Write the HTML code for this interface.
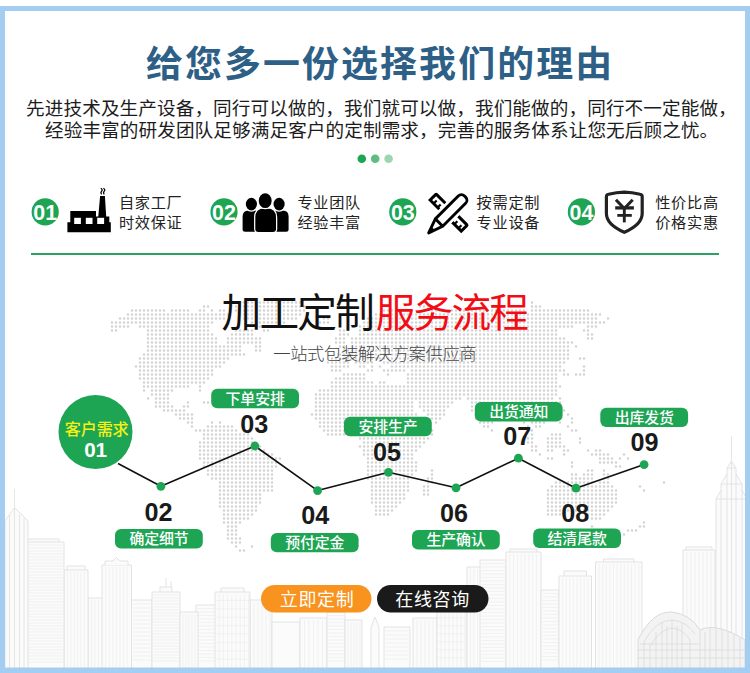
<!DOCTYPE html>
<html lang="zh-CN">
<head>
<meta charset="utf-8">
<title>给您多一份选择我们的理由 - 加工定制服务流程</title>
<style>
html,body{margin:0;padding:0;background:#fff;}
body{position:relative;width:750px;height:673px;overflow:hidden;font-family:"Liberation Sans",sans-serif;}
svg{display:block;position:absolute;left:0;top:0;}
svg text{font-family:"Liberation Sans","Noto Sans CJK SC",sans-serif;}
#textlayer{position:absolute;left:0;top:0;width:750px;height:673px;overflow:hidden;}
#textlayer span{position:absolute;white-space:nowrap;line-height:1;color:transparent;overflow:hidden;}
</style>
</head>
<body>
<svg width="750" height="673" viewBox="0 0 750 673">
<rect x="0" y="0" width="750" height="673" fill="#fff"/>
<path id="worldmap" d="M240 302.4h61M532 302.4h.1M204 306.4h5M236 306.4h69M420 306.4h9M532 306.4h9M132 310.4h33M172 310.4h17M200 310.4h5M212 310.4h.1M220 310.4h5M236 310.4h69M384 310.4h17M432 310.4h93M532 310.4h57M128 314.4h101M240 314.4h61M376 314.4h225M120 318.4h105M244 318.4h53M324 318.4h5M368 318.4h229M608 318.4h.1M112 322.4h101M252 322.4h33M320 322.4h9M364 322.4h241M112 326.4h17M140 326.4h69M256 326.4h21M360 326.4h213M588 326.4h9M112 330.4h5M148 330.4h61M236 330.4h17M264 330.4h5M340 330.4h5M360 330.4h197M584 330.4h5M148 334.4h65M232 334.4h21M340 334.4h9M360 334.4h197M588 334.4h5M148 338.4h69M228 338.4h33M336 338.4h9M352 338.4h213M588 338.4h5M148 342.4h69M228 342.4h33M336 342.4h9M352 342.4h221M148 346.4h93M256 346.4h5M340 346.4h5M352 346.4h217M576 346.4h.1M148 350.4h93M256 350.4h5M344 350.4h225M144 354.4h101M340 354.4h229M140 358.4h89M332 358.4h237M580 358.4h5M140 362.4h85M328 362.4h21M356 362.4h17M384 362.4h181M136 366.4h85M332 366.4h17M360 366.4h5M372 366.4h.1M380 366.4h.1M392 366.4h169M584 366.4h.1M140 370.4h73M332 370.4h9M368 370.4h5M384 370.4h21M412 370.4h153M584 370.4h.1M140 374.4h73M344 374.4h21M388 374.4h.1M408 374.4h149M564 374.4h5M576 374.4h9M140 378.4h69M336 378.4h29M408 378.4h149M144 382.4h61M332 382.4h41M380 382.4h5M408 382.4h149M144 386.4h45M200 386.4h.1M332 386.4h229M144 390.4h.1M152 390.4h21M200 390.4h.1M320 390.4h237M152 394.4h17M316 394.4h241M148 398.4h.1M156 398.4h13M316 398.4h145M468 398.4h85M560 398.4h.1M156 402.4h13M188 402.4h.1M204 402.4h5M316 402.4h97M420 402.4h33M472 402.4h89M156 406.4h17M184 406.4h5M316 406.4h97M420 406.4h29M472 406.4h85M164 410.4h21M316 410.4h97M424 410.4h21M472 410.4h37M516 410.4h37M564 410.4h.1M176 414.4h17M312 414.4h105M428 414.4h17M476 414.4h29M520 414.4h29M568 414.4h.1M180 418.4h13M316 418.4h105M432 418.4h9M476 418.4h25M524 418.4h21M572 418.4h.1M188 422.4h5M212 422.4h.1M220 422.4h.1M320 422.4h105M436 422.4h.1M480 422.4h13M524 422.4h.1M532 422.4h13M560 422.4h.1M572 422.4h.1M192 426.4h.1M208 426.4h25M320 426.4h109M484 426.4h5M528 426.4h.1M536 426.4h5M568 426.4h.1M196 430.4h41M324 430.4h109M492 430.4h.1M532 430.4h.1M572 430.4h5M204 434.4h45M328 434.4h105M532 434.4h.1M552 434.4h9M204 438.4h49M360 438.4h69M528 438.4h5M548 438.4h13M580 438.4h.1M200 442.4h53M364 442.4h61M528 442.4h5M548 442.4h13M580 442.4h.1M200 446.4h61M360 446.4h61M532 446.4h5M548 446.4h17M200 450.4h65M364 450.4h53M532 450.4h5M548 450.4h5M564 450.4h5M588 450.4h.1M596 450.4h5M200 454.4h73M364 454.4h49M540 454.4h.1M564 454.4h.1M592 454.4h17M624 454.4h.1M200 458.4h81M368 458.4h45M548 458.4h5M600 458.4h13M620 458.4h.1M628 458.4h.1M204 462.4h73M368 462.4h49M572 462.4h.1M600 462.4h17M204 466.4h73M368 466.4h49M572 466.4h.1M616 466.4h5M208 470.4h65M368 470.4h49M432 470.4h.1M588 470.4h5M604 470.4h.1M208 474.4h65M368 474.4h45M432 474.4h.1M572 474.4h5M584 474.4h9M604 474.4h5M212 478.4h61M368 478.4h41M428 478.4h5M572 478.4h21M604 478.4h5M220 482.4h53M372 482.4h37M428 482.4h5M556 482.4h37M600 482.4h9M664 482.4h.1M220 486.4h53M372 486.4h37M424 486.4h5M552 486.4h61M640 486.4h.1M220 490.4h53M372 490.4h37M424 490.4h5M548 490.4h69M644 490.4h.1M220 494.4h41M372 494.4h33M424 494.4h5M548 494.4h69M220 498.4h41M372 498.4h33M548 498.4h69M220 502.4h41M372 502.4h29M548 502.4h69M220 506.4h37M376 506.4h21M548 506.4h65M224 510.4h33M376 510.4h17M548 510.4h61M224 514.4h29M376 514.4h13M548 514.4h17M588 514.4h17M224 518.4h25M592 518.4h9M224 522.4h17M644 522.4h.1M228 526.4h9M592 526.4h.1M640 526.4h5M228 530.4h9M628 530.4h9M228 534.4h9M624 534.4h.1M228 538.4h13M232 542.4h9M236 546.4h.1M252 546.4h.1M240 550.4h5" fill="none" stroke="#d3d3d3" stroke-width="2.5" stroke-linecap="round" stroke-dasharray="0 4"/>
<g id="skyline" fill="#fbfbfb" stroke="#e0e0e0" stroke-width="0.9" stroke-linejoin="round">
<rect x="88.0" y="598.0" width="15.0" height="71.0"/><path d="M91.5 600.0V669.0M95.0 600.0V669.0M98.5 600.0V669.0" fill="none" stroke="#ececec" stroke-width="0.7"/>
<rect x="196.0" y="605.0" width="20.0" height="64.0"/><path d="M197.5 608.5H214.5M197.5 612.0H214.5M197.5 615.5H214.5M197.5 619.0H214.5M197.5 622.5H214.5M197.5 626.0H214.5M197.5 629.5H214.5M197.5 633.0H214.5M197.5 636.5H214.5M197.5 640.0H214.5M197.5 643.5H214.5M197.5 647.0H214.5M197.5 650.5H214.5M197.5 654.0H214.5M197.5 657.5H214.5M197.5 661.0H214.5" fill="none" stroke="#ececec" stroke-width="0.7"/>
<rect x="250.0" y="600.0" width="22.0" height="69.0"/><path d="M254.0 602.0V669.0M258.0 602.0V669.0M262.0 602.0V669.0M266.0 602.0V669.0M270.0 602.0V669.0" fill="none" stroke="#ececec" stroke-width="0.7"/>
<rect x="272.0" y="622.0" width="28.0" height="47.0"/>
<rect x="67.0" y="566.0" width="18.0" height="5.0"/><rect x="64.0" y="570.0" width="24.0" height="99.0"/><path d="M67.4 572.0V669.0M70.8 572.0V669.0M74.2 572.0V669.0M77.6 572.0V669.0M81.0 572.0V669.0M84.4 572.0V669.0" fill="none" stroke="#ececec" stroke-width="0.7"/>
<rect x="20.6" y="539.0" width="38.4" height="4.0"/><rect x="15.6" y="542.0" width="48.4" height="127.0"/><path d="M17.1 545.0H62.5M17.1 548.0H62.5M17.1 551.0H62.5M17.1 554.0H62.5M17.1 557.0H62.5M17.1 560.0H62.5M17.1 563.0H62.5M17.1 566.0H62.5M17.1 569.0H62.5M17.1 572.0H62.5M17.1 575.0H62.5M17.1 578.0H62.5M17.1 581.0H62.5M17.1 584.0H62.5M17.1 587.0H62.5M17.1 590.0H62.5M17.1 593.0H62.5M17.1 596.0H62.5M17.1 599.0H62.5M17.1 602.0H62.5M17.1 605.0H62.5M17.1 608.0H62.5M17.1 611.0H62.5M17.1 614.0H62.5M17.1 617.0H62.5M17.1 620.0H62.5M17.1 623.0H62.5M17.1 626.0H62.5M17.1 629.0H62.5M17.1 632.0H62.5M17.1 635.0H62.5M17.1 638.0H62.5M17.1 641.0H62.5M17.1 644.0H62.5M17.1 647.0H62.5M17.1 650.0H62.5M17.1 653.0H62.5M17.1 656.0H62.5M17.1 659.0H62.5M17.1 662.0H62.5" fill="none" stroke="#ececec" stroke-width="0.7"/>
<path d="M5 669V521L14.5 507.5L28 521V669Z"/><path d="M14.5 507.5V489M9.5 514.5V669M14.5 507.5V669M19.5 514.5V669M24 518V669" fill="none" stroke-width="0.8"/>
<rect x="102.0" y="565.0" width="29.5" height="104.0"/><path d="M105.6 567.0V669.0M109.2 567.0V669.0M112.8 567.0V669.0M116.4 567.0V669.0M120.0 567.0V669.0M123.6 567.0V669.0M127.2 567.0V669.0" fill="none" stroke="#ececec" stroke-width="0.7"/>
<path d="M105 565V561H113L116.5 557.5L120 561H128V565" />
<rect x="131.5" y="600.0" width="20.5" height="69.0"/><path d="M133.0 604.0H150.5M133.0 608.0H150.5M133.0 612.0H150.5M133.0 616.0H150.5M133.0 620.0H150.5M133.0 624.0H150.5M133.0 628.0H150.5M133.0 632.0H150.5M133.0 636.0H150.5M133.0 640.0H150.5M133.0 644.0H150.5M133.0 648.0H150.5M133.0 652.0H150.5M133.0 656.0H150.5M133.0 660.0H150.5" fill="none" stroke="#ececec" stroke-width="0.7"/>
<rect x="160.0" y="587.0" width="12.0" height="6.0"/><rect x="152.0" y="592.0" width="28.0" height="77.0"/><path d="M153.5 595.0H178.5M153.5 598.0H178.5M153.5 601.0H178.5M153.5 604.0H178.5M153.5 607.0H178.5M153.5 610.0H178.5M153.5 613.0H178.5M153.5 616.0H178.5M153.5 619.0H178.5M153.5 622.0H178.5M153.5 625.0H178.5M153.5 628.0H178.5M153.5 631.0H178.5M153.5 634.0H178.5M153.5 637.0H178.5M153.5 640.0H178.5M153.5 643.0H178.5M153.5 646.0H178.5M153.5 649.0H178.5M153.5 652.0H178.5M153.5 655.0H178.5M153.5 658.0H178.5M153.5 661.0H178.5" fill="none" stroke="#ececec" stroke-width="0.7"/>
<path d="M166 587V578M171 587V581" fill="none"/>
<rect x="180.0" y="612.0" width="18.0" height="57.0"/><path d="M183.0 614.0V669.0M186.0 614.0V669.0M189.0 614.0V669.0M192.0 614.0V669.0M195.0 614.0V669.0" fill="none" stroke="#ececec" stroke-width="0.7"/>
<rect x="221.0" y="588.0" width="23.0" height="5.0"/><rect x="215.0" y="592.0" width="35.0" height="77.0"/><path d="M219.2 594.0V669.0M223.4 594.0V669.0M227.6 594.0V669.0M231.8 594.0V669.0M236.0 594.0V669.0M240.2 594.0V669.0M244.4 594.0V669.0M248.6 594.0V669.0M215.0 600.4H250.0M215.0 608.8H250.0M215.0 617.2H250.0M215.0 625.6H250.0M215.0 634.0H250.0M215.0 642.4H250.0M215.0 650.8H250.0M215.0 659.2H250.0" fill="none" stroke="#ececec" stroke-width="0.7"/>
<rect x="300.0" y="618.0" width="27.0" height="51.0"/><path d="M304.5 620.0V669.0M309.0 620.0V669.0M313.5 620.0V669.0M318.0 620.0V669.0M322.5 620.0V669.0" fill="none" stroke="#ececec" stroke-width="0.7"/>
<rect x="327.0" y="612.0" width="18.0" height="57.0"/><path d="M328.5 615.5H343.5M328.5 619.0H343.5M328.5 622.5H343.5M328.5 626.0H343.5M328.5 629.5H343.5M328.5 633.0H343.5M328.5 636.5H343.5M328.5 640.0H343.5M328.5 643.5H343.5M328.5 647.0H343.5M328.5 650.5H343.5M328.5 654.0H343.5M328.5 657.5H343.5M328.5 661.0H343.5" fill="none" stroke="#ececec" stroke-width="0.7"/>
<rect x="345.0" y="620.0" width="17.0" height="49.0"/><path d="M348.0 622.0V669.0M351.0 622.0V669.0M354.0 622.0V669.0M357.0 622.0V669.0M360.0 622.0V669.0" fill="none" stroke="#ececec" stroke-width="0.7"/>
<path d="M371 669V628L373 622L375 617L377 622L379 628V669Z"/>
<rect x="384.0" y="627.0" width="26.0" height="42.0"/><path d="M385.5 631.0H408.5M385.5 635.0H408.5M385.5 639.0H408.5M385.5 643.0H408.5M385.5 647.0H408.5M385.5 651.0H408.5M385.5 655.0H408.5M385.5 659.0H408.5" fill="none" stroke="#ececec" stroke-width="0.7"/>
<rect x="413.0" y="618.0" width="24.0" height="51.0"/><path d="M417.0 620.0V669.0M421.0 620.0V669.0M425.0 620.0V669.0M429.0 620.0V669.0M433.0 620.0V669.0" fill="none" stroke="#ececec" stroke-width="0.7"/>
<rect x="442.0" y="590.0" width="20.0" height="5.0"/><rect x="437.0" y="594.0" width="30.0" height="75.0"/><path d="M441.0 596.0V669.0M445.0 596.0V669.0M449.0 596.0V669.0M453.0 596.0V669.0M457.0 596.0V669.0M461.0 596.0V669.0M465.0 596.0V669.0M437.0 602.0H467.0M437.0 610.0H467.0M437.0 618.0H467.0M437.0 626.0H467.0M437.0 634.0H467.0M437.0 642.0H467.0M437.0 650.0H467.0M437.0 658.0H467.0" fill="none" stroke="#ececec" stroke-width="0.7"/>
<rect x="467.0" y="567.0" width="15.0" height="102.0"/><path d="M470.5 569.0V669.0M474.0 569.0V669.0M477.5 569.0V669.0" fill="none" stroke="#ececec" stroke-width="0.7"/>
<rect x="480.0" y="560.0" width="26.0" height="109.0"/><path d="M481.5 563.5H504.5M481.5 567.0H504.5M481.5 570.5H504.5M481.5 574.0H504.5M481.5 577.5H504.5M481.5 581.0H504.5M481.5 584.5H504.5M481.5 588.0H504.5M481.5 591.5H504.5M481.5 595.0H504.5M481.5 598.5H504.5M481.5 602.0H504.5M481.5 605.5H504.5M481.5 609.0H504.5M481.5 612.5H504.5M481.5 616.0H504.5M481.5 619.5H504.5M481.5 623.0H504.5M481.5 626.5H504.5M481.5 630.0H504.5M481.5 633.5H504.5M481.5 637.0H504.5M481.5 640.5H504.5M481.5 644.0H504.5M481.5 647.5H504.5M481.5 651.0H504.5M481.5 654.5H504.5M481.5 658.0H504.5M481.5 661.5H504.5" fill="none" stroke="#ececec" stroke-width="0.7"/>
<rect x="510.0" y="549.0" width="27.0" height="4.0"/><rect x="506.0" y="552.0" width="35.0" height="117.0"/><path d="M509.8 554.0V669.0M513.6 554.0V669.0M517.4 554.0V669.0M521.2 554.0V669.0M525.0 554.0V669.0M528.8 554.0V669.0M532.6 554.0V669.0M536.4 554.0V669.0" fill="none" stroke="#ececec" stroke-width="0.7"/>
<rect x="541.0" y="590.0" width="18.0" height="79.0"/><path d="M542.5 593.5H557.5M542.5 597.0H557.5M542.5 600.5H557.5M542.5 604.0H557.5M542.5 607.5H557.5M542.5 611.0H557.5M542.5 614.5H557.5M542.5 618.0H557.5M542.5 621.5H557.5M542.5 625.0H557.5M542.5 628.5H557.5M542.5 632.0H557.5M542.5 635.5H557.5M542.5 639.0H557.5M542.5 642.5H557.5M542.5 646.0H557.5M542.5 649.5H557.5M542.5 653.0H557.5M542.5 656.5H557.5M542.5 660.0H557.5" fill="none" stroke="#ececec" stroke-width="0.7"/>
<rect x="564.0" y="571.0" width="22.5" height="6.0"/><rect x="559.0" y="576.0" width="32.5" height="93.0"/><path d="M562.6 578.0V669.0M566.2 578.0V669.0M569.8 578.0V669.0M573.4 578.0V669.0M577.0 578.0V669.0M580.6 578.0V669.0M584.2 578.0V669.0M587.8 578.0V669.0" fill="none" stroke="#ececec" stroke-width="0.7"/>
<rect x="603.5" y="559.0" width="30.5" height="4.0"/><rect x="595.5" y="562.0" width="46.5" height="107.0"/><path d="M599.1 564.0V669.0M602.7 564.0V669.0M606.3 564.0V669.0M609.9 564.0V669.0M613.5 564.0V669.0M617.1 564.0V669.0M620.7 564.0V669.0M624.3 564.0V669.0M627.9 564.0V669.0M631.5 564.0V669.0M635.1 564.0V669.0M638.7 564.0V669.0" fill="none" stroke="#ececec" stroke-width="0.7"/>
<rect x="686.0" y="547.0" width="26.0" height="4.0"/><rect x="683.0" y="550.0" width="32.0" height="119.0"/><path d="M687.0 552.0V669.0M691.0 552.0V669.0M695.0 552.0V669.0M699.0 552.0V669.0M703.0 552.0V669.0M707.0 552.0V669.0M711.0 552.0V669.0" fill="none" stroke="#ececec" stroke-width="0.7"/>
<path d="M716 669V499L721 490V484L727 474V468L731.5 461L736 468V474L742 484V490L747 499V669Z"/><path d="M731.5 461V436M721 490V669M727 474V669M731.5 461V669M736 474V669M742 490V669M716 499H747M721 484H742M727 468H736" fill="none" stroke-width="0.8"/>
<path d="M638 669V640Q652 611 672 612Q690 614 700 630Q716 622 745 640V669Z" fill="#f3f3f3" stroke="#d6d6d6"/>
<path d="M644 669V642Q656 620 672 620Q686 621 695 634M650 669V646Q660 629 672 628Q683 629 690 640M700 630V669M662 622V669M672 620V669M682 623V669M690 640V669M710 628V669M722 630V669M734 635V669M638 650H745M638 658H745M640 644H700M656 632V669M667 626V669M677 626V669M705 632V669M716 629V669M728 632V669M740 638V669" fill="none" stroke="#d9d9d9" stroke-width="0.8"/>
</g>
<path d="M0 6H750V673H0Z M5 11V667.4H745V11Z" fill="#a3cdf1" fill-rule="evenodd"/>
<text x="145.9" y="77.1" font-size="36.9" font-weight="bold" fill="#2e5f87" textLength="466.2" lengthAdjust="spacing">给您多一份选择我们的理由</text>
<text x="26.1" y="115" font-size="18.6" fill="#1c1c1c" textLength="710.6" lengthAdjust="spacing">先进技术及生产设备，同行可以做的，我们就可以做，我们能做的，同行不一定能做，</text>
<text x="45" y="137.3" font-size="18.6" fill="#1c1c1c" textLength="673.2" lengthAdjust="spacing">经验丰富的研发团队足够满足客户的定制需求，完善的服务体系让您无后顾之忧。</text>
<circle cx="361.8" cy="158.7" r="4.3" fill="#1da554"/><circle cx="375.2" cy="158.7" r="4.3" fill="#5fbd82"/><circle cx="388.6" cy="158.7" r="4.3" fill="#9bd6b1"/>
<circle cx="45.2" cy="211.9" r="13.6" fill="#1da554"/>
<text x="45.2" y="220" font-size="21.4" font-weight="bold" fill="#fff" text-anchor="middle">01</text>
<text x="118.9" y="208.3" font-size="15.2" fill="#222" textLength="62.9" lengthAdjust="spacing">自家工厂</text>
<text x="118.9" y="227.8" font-size="15.2" fill="#222" textLength="62.9" lengthAdjust="spacing">时效保证</text>
<circle cx="224.0" cy="211.9" r="13.6" fill="#1da554"/>
<text x="224" y="220" font-size="21.4" font-weight="bold" fill="#fff" text-anchor="middle">02</text>
<text x="297.4" y="208.3" font-size="15.2" fill="#222" textLength="62.9" lengthAdjust="spacing">专业团队</text>
<text x="297.4" y="227.8" font-size="15.2" fill="#222" textLength="62.9" lengthAdjust="spacing">经验丰富</text>
<circle cx="402.8" cy="211.9" r="13.6" fill="#1da554"/>
<text x="402.8" y="220" font-size="21.4" font-weight="bold" fill="#fff" text-anchor="middle">03</text>
<text x="476.6" y="208.3" font-size="15.2" fill="#222" textLength="62.9" lengthAdjust="spacing">按需定制</text>
<text x="476.6" y="227.8" font-size="15.2" fill="#222" textLength="62.9" lengthAdjust="spacing">专业设备</text>
<circle cx="581.4" cy="211.9" r="13.6" fill="#1da554"/>
<text x="581.4" y="220" font-size="21.4" font-weight="bold" fill="#fff" text-anchor="middle">04</text>
<text x="655.2" y="208.3" font-size="15.2" fill="#222" textLength="62.9" lengthAdjust="spacing">性价比高</text>
<text x="655.2" y="227.8" font-size="15.2" fill="#222" textLength="62.9" lengthAdjust="spacing">价格实惠</text>
<g id="icon-factory"><title>factory</title>
<path d="M67.4 232.3V222.2H70.3V211H96V216.4H98.3L100.1 196H104.9L106.2 216.4H109.3V222.2H110.8V232.3Z" fill="#000"/>
<rect x="74.2" y="217.8" width="6.7" height="6.2" fill="#fff"/><rect x="85.8" y="217.8" width="6.7" height="6.2" fill="#fff"/><rect x="97.2" y="217.8" width="6.9" height="6.2" fill="#fff"/>
<path d="M100.8 188.3q2.4 1.5.7 3q-1.3 1.4.1 3.1M103.4 188.3q2.4 1.5.7 3q-1.3 1.4.1 3.1" fill="none" stroke="#000" stroke-width="1.3"/>
</g>
<g id="icon-team" fill="#000" stroke="#fff" stroke-width="2.5" paint-order="stroke"><title>team</title>
<path d="M242.6 229.2V216.4Q242.6 210.4 248.6 210.4H256V231.7H245.1Q242.6 231.7 242.6 229.2Z" stroke="none"/>
<path d="M288.6 229.2V216.4Q288.6 210.4 282.6 210.4H275.2V231.7H286.1Q288.6 231.7 288.6 229.2Z" stroke="none"/>
<ellipse cx="251.4" cy="204.1" rx="5.6" ry="6.3"/>
<ellipse cx="279.1" cy="204.1" rx="5.6" ry="6.3"/>
<path d="M255.3 229.1V217.5Q255.3 208.5 264.3 208.5H267Q276 208.5 276 217.5V229.1Q276 232.1 273 232.1H258.3Q255.3 232.1 255.3 229.1Z"/>
<ellipse cx="265.2" cy="200.7" rx="6.45" ry="7.4"/>
</g>
<g id="icon-tools" fill="none" stroke="#000" stroke-width="2.9"><title>pencil and ruler</title>
<g transform="translate(448.7 212.6) rotate(45)">
<path d="M-9 -4.25H-21.2Q-22 -4.25 -22 -3.45V4.25H-9M9.2 -4.25H21.2Q22 -4.25 22 -3.45V4.25H9.2" stroke-width="3"/>
<path d="M-17 4.25V0M-11.4 4.25V0M12.2 4.25V0M18 4.25V0" stroke-width="2.2"/>
</g>
<g transform="translate(447.8 213.8) rotate(-45)" stroke-linejoin="round">
<path d="M-12.4 -5.2H20A4.4 4.4 0 0 1 24.4 -.8V.8A4.4 4.4 0 0 1 20 5.2H-12.4L-27 0Z" stroke="#fff" stroke-width="7.5"/>
<path d="M-12.4 -5.2H20A4.4 4.4 0 0 1 24.4 -.8V.8A4.4 4.4 0 0 1 20 5.2H-12.4L-27 0Z" fill="#fff"/>
<path d="M-12.4 -5.2V5.2"/>
<path d="M-27 0L-21.2 -2.1V2.1Z" fill="#000" stroke-width="1"/>
</g>
</g>
<g id="icon-shield" fill="none" stroke="#222"><title>price shield</title>
<path d="M606.4 196.8Q606.4 194.6 608.6 194.2Q616.5 192.3 624.3 192.1Q632.1 192.3 640 194.2Q642.2 194.6 642.2 196.8V213.5C642.2 222 634.5 227.8 624.3 232.3C614.1 227.8 606.4 222 606.4 213.5Z" stroke-width="3.2" stroke-linejoin="round"/>
<path d="M615.9 199.8L624.3 208.6L632.7 199.8" stroke-width="3"/>
<path d="M624.3 208V222.4" stroke-width="2.9"/>
<path d="M615.2 207.9H633.9" stroke-width="3.3"/>
<path d="M617.3 215.4H631.8" stroke-width="2.8"/>
</g>

<rect x="31" y="253" width="688" height="2" fill="#2ba45f"/>
<text x="221.6" y="327" font-size="39.7" fill="#111" textLength="153.2" lengthAdjust="spacing">加工定制</text>
<text x="375.7" y="327" font-size="39.7" fill="#f20d15" textLength="153.2" lengthAdjust="spacing">服务流程</text>
<text x="273.3" y="359.7" font-size="17.4" font-weight="300" fill="#444" textLength="203.4" lengthAdjust="spacing">一站式包装解决方案供应商</text>
<polyline points="118.0,463.5 160.9,486.3 254.9,446.0 317.6,490.6 388.5,472.3 456.0,487.8 518.4,458.2 576.0,488.2 644.1,464.6" fill="none" stroke="#111" stroke-width="1.6" stroke-linejoin="round"/>
<circle cx="160.9" cy="486.3" r="4.4" fill="#1da554"/>
<circle cx="254.9" cy="446.0" r="4.4" fill="#1da554"/>
<circle cx="317.6" cy="490.6" r="4.4" fill="#1da554"/>
<circle cx="388.5" cy="472.3" r="4.4" fill="#1da554"/>
<circle cx="456.0" cy="487.8" r="4.4" fill="#1da554"/>
<circle cx="518.4" cy="458.2" r="4.4" fill="#1da554"/>
<circle cx="576.0" cy="488.2" r="4.4" fill="#1da554"/>
<circle cx="644.1" cy="464.6" r="4.4" fill="#1da554"/>
<circle cx="95.5" cy="432" r="37" fill="#1da554"/>
<text x="64.7" y="434.7" font-size="16.1" font-weight="500" fill="#f6f015" textLength="64" lengthAdjust="spacing">客户需求</text>
<text x="95.6" y="456.7" font-size="20.6" font-weight="bold" fill="#fff" text-anchor="middle">01</text>
<text x="158.4" y="521" font-size="25.2" font-weight="bold" fill="#1a1a1a" text-anchor="middle">02</text>
<rect x="115.0" y="529.1" width="87.8" height="19.4" rx="6" fill="#1da554"/>
<text x="129.4" y="544.3" font-size="14.9" font-weight="500" fill="#fff" textLength="59.2" lengthAdjust="spacing">确定细节</text>
<text x="254.3" y="433.4" font-size="25.2" font-weight="bold" fill="#1a1a1a" text-anchor="middle">03</text>
<rect x="211.2" y="388.8" width="87.8" height="19.4" rx="6" fill="#1da554"/>
<text x="225.6" y="404" font-size="14.9" font-weight="500" fill="#fff" textLength="59.2" lengthAdjust="spacing">下单安排</text>
<text x="315.2" y="523.6" font-size="25.2" font-weight="bold" fill="#1a1a1a" text-anchor="middle">04</text>
<rect x="270.8" y="532.9" width="87.8" height="19.4" rx="6" fill="#1da554"/>
<text x="285.2" y="548.1" font-size="14.9" font-weight="500" fill="#fff" textLength="59.2" lengthAdjust="spacing">预付定金</text>
<text x="386.9" y="460.6" font-size="25.2" font-weight="bold" fill="#1a1a1a" text-anchor="middle">05</text>
<rect x="344.0" y="416.8" width="87.8" height="19.4" rx="6" fill="#1da554"/>
<text x="358.4" y="432" font-size="14.9" font-weight="500" fill="#fff" textLength="59.2" lengthAdjust="spacing">安排生产</text>
<text x="454" y="522" font-size="25.2" font-weight="bold" fill="#1a1a1a" text-anchor="middle">06</text>
<rect x="412.0" y="530.0" width="87.8" height="19.4" rx="6" fill="#1da554"/>
<text x="426.4" y="545.2" font-size="14.9" font-weight="500" fill="#fff" textLength="59.2" lengthAdjust="spacing">生产确认</text>
<text x="517.2" y="444.8" font-size="25.2" font-weight="bold" fill="#1a1a1a" text-anchor="middle">07</text>
<rect x="474.8" y="402.0" width="87.8" height="19.4" rx="6" fill="#1da554"/>
<text x="489.2" y="417.2" font-size="14.9" font-weight="500" fill="#fff" textLength="59.2" lengthAdjust="spacing">出货通知</text>
<text x="575.2" y="522" font-size="25.2" font-weight="bold" fill="#1a1a1a" text-anchor="middle">08</text>
<rect x="533.2" y="528.6" width="87.8" height="19.4" rx="6" fill="#1da554"/>
<text x="547.6" y="543.8" font-size="14.9" font-weight="500" fill="#fff" textLength="59.2" lengthAdjust="spacing">结清尾款</text>
<text x="644.4" y="451.2" font-size="25.2" font-weight="bold" fill="#1a1a1a" text-anchor="middle">09</text>
<rect x="600.3" y="407.7" width="87.8" height="19.4" rx="6" fill="#1da554"/>
<text x="614.7" y="422.9" font-size="14.9" font-weight="500" fill="#fff" textLength="59.2" lengthAdjust="spacing">出库发货</text>
<rect x="261" y="585" width="110.5" height="27.5" rx="13.75" fill="#f7931e"/>
<text x="279.75" y="606" font-size="18" fill="#fff" textLength="74" lengthAdjust="spacing">立即定制</text>
<rect x="377" y="585" width="111.5" height="27.5" rx="13.75" fill="#1a1a1a"/>
<text x="395.25" y="606" font-size="18" fill="#fff" textLength="74" lengthAdjust="spacing">在线咨询</text>
</svg>
<div id="textlayer"><span style="left:144.9px;top:44.6px;font-size:36.9px;width:466.2px">给您多一份选择我们的理由</span><span style="left:26.0px;top:98.6px;font-size:18.6px;width:710.6px">先进技术及生产设备，同行可以做的，我们就可以做，我们能做的，同行不一定能做，</span><span style="left:44.9px;top:120.9px;font-size:18.6px;width:673.2px">经验丰富的研发团队足够满足客户的定制需求，完善的服务体系让您无后顾之忧。</span><span style="left:32.4px;top:201.2px;font-size:21.4px;width:25.4px">01</span><span style="left:118.9px;top:194.9px;font-size:15.2px;width:62.9px">自家工厂</span><span style="left:118.9px;top:214.4px;font-size:15.2px;width:62.9px">时效保证</span><span style="left:211.2px;top:201.2px;font-size:21.4px;width:25.4px">02</span><span style="left:297.4px;top:194.9px;font-size:15.2px;width:62.9px">专业团队</span><span style="left:297.4px;top:214.4px;font-size:15.2px;width:62.9px">经验丰富</span><span style="left:390.0px;top:201.2px;font-size:21.4px;width:25.4px">03</span><span style="left:476.6px;top:194.9px;font-size:15.2px;width:62.9px">按需定制</span><span style="left:476.6px;top:214.4px;font-size:15.2px;width:62.9px">专业设备</span><span style="left:568.6px;top:201.2px;font-size:21.4px;width:25.4px">04</span><span style="left:655.2px;top:194.9px;font-size:15.2px;width:62.9px">性价比高</span><span style="left:655.2px;top:214.4px;font-size:15.2px;width:62.9px">价格实惠</span><span style="left:222.3px;top:292.1px;font-size:39.7px;width:153.2px">加工定制</span><span style="left:376.4px;top:292.1px;font-size:39.7px;width:153.2px">服务流程</span><span style="left:273.5px;top:344.4px;font-size:17.4px;width:203.4px">一站式包装解决方案供应商</span><span style="left:64.7px;top:420.5px;font-size:16.1px;width:64.0px">客户需求</span><span style="left:83.8px;top:438.6px;font-size:20.6px;width:23.5px">01</span><span style="left:143.6px;top:498.8px;font-size:25.2px;width:29.6px">02</span><span style="left:129.4px;top:531.2px;font-size:14.9px;width:59.2px">确定细节</span><span style="left:239.5px;top:411.2px;font-size:25.2px;width:29.6px">03</span><span style="left:225.6px;top:390.9px;font-size:14.9px;width:59.2px">下单安排</span><span style="left:300.4px;top:501.4px;font-size:25.2px;width:29.6px">04</span><span style="left:285.2px;top:535.0px;font-size:14.9px;width:59.2px">预付定金</span><span style="left:372.1px;top:438.4px;font-size:25.2px;width:29.6px">05</span><span style="left:358.4px;top:418.9px;font-size:14.9px;width:59.2px">安排生产</span><span style="left:439.2px;top:499.8px;font-size:25.2px;width:29.6px">06</span><span style="left:426.4px;top:532.1px;font-size:14.9px;width:59.2px">生产确认</span><span style="left:502.4px;top:422.6px;font-size:25.2px;width:29.6px">07</span><span style="left:489.2px;top:404.1px;font-size:14.9px;width:59.2px">出货通知</span><span style="left:560.4px;top:499.8px;font-size:25.2px;width:29.6px">08</span><span style="left:547.6px;top:530.7px;font-size:14.9px;width:59.2px">结清尾款</span><span style="left:629.6px;top:429.0px;font-size:25.2px;width:29.6px">09</span><span style="left:614.7px;top:409.8px;font-size:14.9px;width:59.2px">出库发货</span><span style="left:279.5px;top:590.2px;font-size:18.0px;width:74.0px">立即定制</span><span style="left:395.0px;top:590.2px;font-size:18.0px;width:74.0px">在线咨询</span></div>
</body>
</html>
